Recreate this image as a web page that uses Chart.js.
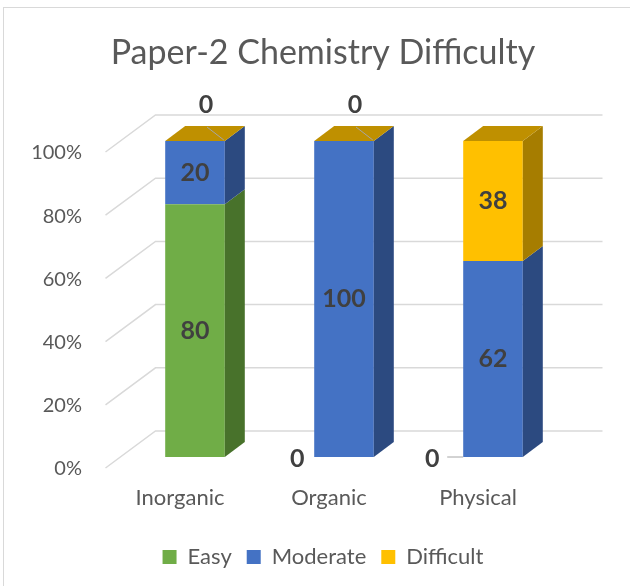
<!DOCTYPE html>
<html>
<head>
<meta charset="utf-8">
<script src="https://cdn.jsdelivr.net/npm/chart.js@4.4.0/dist/chart.umd.min.js"></script>
<style>
  body { margin: 0; background: #fff; }
  #marco { position: absolute; left: 3px; top: 7px; width: 640px; height: 600px; border: 1px solid #d9d9d9; }
  #myChart { position: absolute; left: 0; top: 0; }
</style>
</head>
<body>
<div id="marco"></div>
<canvas id="myChart" width="630" height="586"></canvas>
<script>
const categorias = ['Inorganic', 'Organic', 'Physical'];
const easy = [80, 0, 0];
const moderate = [20, 100, 62];
const difficult = [0, 0, 38];
const yTicks = [0, 20, 40, 60, 80, 100];

// desplazamiento de las etiquetas "0" del pie de barra
const corrimientoCero = [17, 17, 31];

const fuente = 'Lato, "Open Sans", sans-serif';
const gris = '#595959';

// profundidad 3D
const PROF_X = 20, PROF_Y = 15;
const PARED_X = 35, PARED_Y = 26;
const PISO_X = 15, PISO_Y = 11;

function poligono(ctx, pts, color) {
    ctx.fillStyle = color;
    ctx.beginPath();
    ctx.moveTo(pts[0][0], pts[0][1]);
    for (let k = 1; k < pts.length; k++) ctx.lineTo(pts[k][0], pts[k][1]);
    ctx.closePath();
    ctx.fill();
}

const efecto3d = {
    id: 'efecto3d',
    beforeDatasetsDraw(chart) {
        const { ctx, chartArea, scales: { y } } = chart;
        ctx.save();
        ctx.strokeStyle = '#d9d9d9';
        ctx.lineWidth = 1.5;
        y.ticks.forEach(t => {
            const py = y.getPixelForValue(t.value);
            ctx.beginPath();
            ctx.moveTo(chartArea.left - PISO_X, py + PISO_Y);
            ctx.lineTo(chartArea.left + PARED_X, py - PARED_Y);
            ctx.lineTo(chartArea.right + PARED_X, py - PARED_Y);
            ctx.stroke();
        });
        ctx.restore();
    },
    afterDatasetsDraw(chart) {
        const ctx = chart.ctx;
        const n = chart.data.datasets.length;
        ctx.save();
        chart.data.datasets.forEach((ds, i) => {
            const meta = chart.getDatasetMeta(i);
            meta.data.forEach((bar, j) => {
                const { x, y, base, width } = bar.getProps(['x', 'y', 'base', 'width'], true);
                const der = x + width / 2, izq = x - width / 2;
                if (base - y > 0.5) {
                    poligono(ctx, [[der, y], [der + PROF_X, y - PROF_Y], [der + PROF_X, base - PROF_Y], [der, base]], ds.colorLado);
                }
                if (i === n - 1) {
                    poligono(ctx, [[izq, y], [izq + PROF_X, y - PROF_Y], [der + PROF_X, y - PROF_Y], [der, y]], ds.colorTapa);
                }
            });
        });

        // etiquetas de datos
        ctx.font = 'bold 25px ' + fuente;
        ctx.fillStyle = '#404040';
        ctx.textAlign = 'center';
        ctx.textBaseline = 'middle';
        ctx.strokeStyle = '#a6a6a6';
        ctx.lineWidth = 1;
        chart.data.datasets.forEach((ds, i) => {
            const meta = chart.getDatasetMeta(i);
            meta.data.forEach((bar, j) => {
                const { x, y, base, width } = bar.getProps(['x', 'y', 'base', 'width'], true);
                const valor = ds.data[j];
                const izq = x - width / 2, der = x + width / 2;
                if (valor > 0) {
                    ctx.fillText(valor, x, (y + base) / 2);
                } else if (i === n - 1) {
                    ctx.fillText(valor, x + 11, y - 36);
                    ctx.beginPath();
                    ctx.moveTo(x + 12, y - 14);
                    ctx.lineTo(der - 1, y - 1);
                    ctx.stroke();
                } else {
                    const dx = corrimientoCero[j];
                    ctx.fillText(valor, izq - dx, base + 2);
                    if (dx > 20) {
                        ctx.beginPath();
                        ctx.moveTo(izq - dx + 15, base);
                        ctx.lineTo(izq, base);
                        ctx.stroke();
                    }
                }
            });
        });
        ctx.restore();
    }
};

const config = {
    type: 'bar',
    data: {
        labels: categorias,
        datasets: [
            { label: 'Easy', data: easy, backgroundColor: '#70AD47', colorLado: '#48722B', colorTapa: '#5C8E3A' },
            { label: 'Moderate', data: moderate, backgroundColor: '#4472C4', colorLado: '#2C4A80', colorTapa: '#35599A' },
            { label: 'Difficult', data: difficult, backgroundColor: '#FFC000', colorLado: '#A67D00', colorTapa: '#BF9000' }
        ]
    },
    options: {
        responsive: false,
        animation: false,
        barPercentage: 0.4,
        categoryPercentage: 1,
        layout: { padding: { left: 16, right: 0, top: 0, bottom: 8 } },
        scales: {
            x: {
                stacked: true,
                grid: { display: false, drawTicks: false },
                border: { display: false },
                ticks: { color: gris, font: { family: fuente, size: 22 }, padding: 28, labelOffset: -15 },
                afterFit: (s) => { s.height = 74; }
            },
            y: {
                stacked: true,
                min: 0,
                max: 100,
                afterBuildTicks: (s) => { s.ticks = yTicks.map(v => ({ value: v })); },
                grid: { display: false, drawTicks: false },
                border: { display: false },
                ticks: { color: gris, font: { family: fuente, size: 20 }, padding: 38.5, labelOffset: 12, callback: (v) => v + '%' },
                afterFit: (s) => { s.width = 104.5; }
            },
            // eje vacio para dejar el margen derecho sin descentrar titulo y leyenda
            y2: {
                position: 'right',
                grid: { display: false, drawTicks: false },
                border: { display: false },
                ticks: { display: false },
                afterFit: (s) => { s.width = 62.5; }
            }
        },
        plugins: {
            title: {
                display: true,
                text: 'Paper-2 Chemistry Difficulty',
                color: gris,
                font: { family: fuente, size: 34, weight: 'normal' },
                padding: { top: 32.6, bottom: 67.6 }
            },
            legend: {
                position: 'bottom',
                labels: { color: gris, font: { family: fuente, size: 22 }, boxWidth: 14, boxHeight: 14, padding: 15 }
            },
            tooltip: { enabled: false }
        }
    },
    plugins: [efecto3d]
};

const chart = new Chart(document.getElementById('myChart'), config);
</script>
</body>
</html>
